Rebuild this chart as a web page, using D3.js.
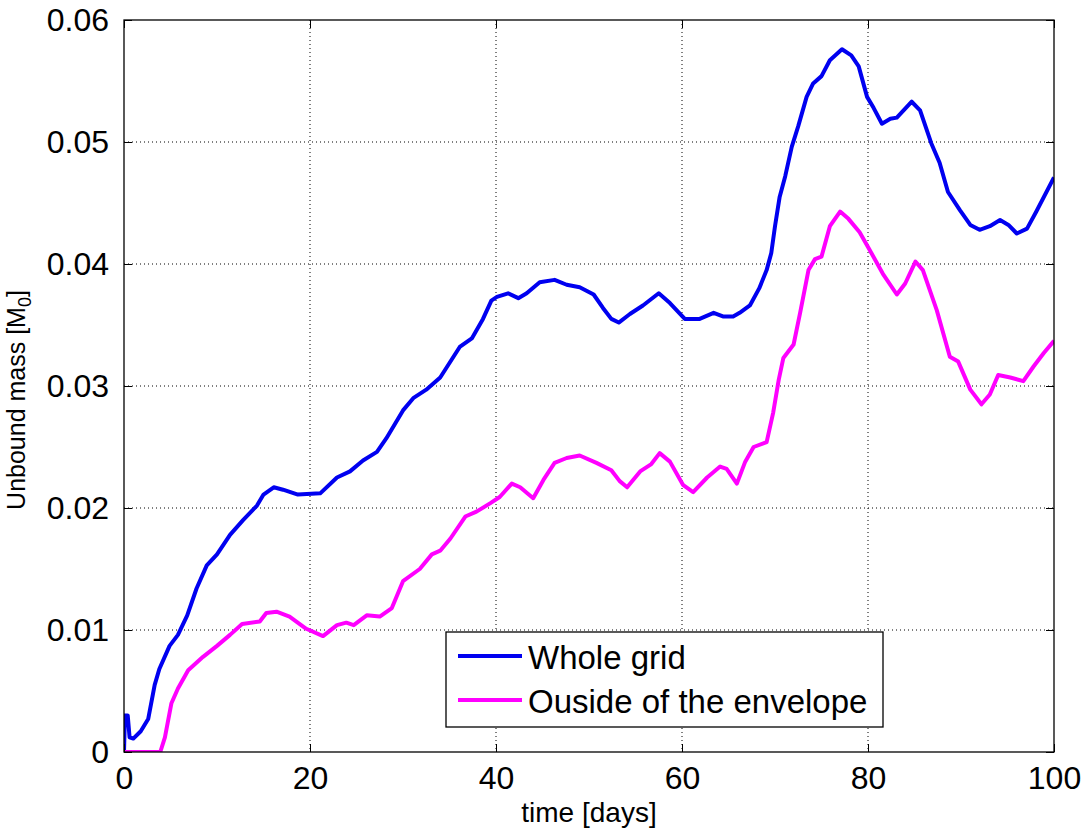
<!DOCTYPE html>
<html>
<head>
<meta charset="utf-8">
<script src="https://cdn.jsdelivr.net/npm/d3@7"></script>
<style>
  body { margin: 0; background: #fff; }
  svg text { font-family: "Liberation Sans", Arial, Helvetica, sans-serif; fill: #000; }
</style>
</head>
<body>
<div id="chart"></div>
<script>
// data
var wholeTime = [0, 0.1, 0.4, 0.6, 1.0, 1.8, 2.6, 3.3, 3.8, 4.9, 5.8, 6.8, 7.8, 8.9, 10, 11.4, 12.8, 14.3, 15, 16.1, 17.1, 18.7, 21.1, 22.9, 24.3, 25.7, 27.2, 28.2, 30, 31.1, 32.5, 34, 36.1, 37.4, 38.6, 39.5, 40.1, 41.3, 42.4, 43.3, 44.7, 46.3, 47.6, 49, 50.5, 51.5, 52.4, 53.2, 54.4, 55.8, 57.5, 58.7, 60.3, 61.9, 63.4, 64.4, 65.5, 66.2, 67.3, 68.3, 69.1, 69.6, 70, 70.5, 71.1, 71.8, 72.5, 73.4, 74.1, 75, 75.9, 77.2, 78.2, 79, 79.9, 80.6, 81.5, 82.4, 83.1, 84.7, 85.6, 86.8, 87.7, 88.6, 89.9, 91, 92, 93.1, 94.2, 95.1, 96, 97.1, 98.1, 100];
var wholeMass = [0, 0.003, 0.003, 0.0012, 0.0011, 0.0017, 0.0027, 0.0055, 0.0068, 0.0087, 0.0096, 0.0112, 0.0134, 0.0153, 0.0162, 0.0178, 0.019, 0.0202, 0.0211, 0.0217, 0.0215, 0.0211, 0.0212, 0.0225, 0.023, 0.0239, 0.0246, 0.0257, 0.028, 0.029, 0.0297, 0.0307, 0.0332, 0.0339, 0.0355, 0.037, 0.0373, 0.0376, 0.0372, 0.0376, 0.0385, 0.0387, 0.0383, 0.0381, 0.0375, 0.0364, 0.0355, 0.0352, 0.0359, 0.0366, 0.0376, 0.0368, 0.0355, 0.0355, 0.036, 0.0357, 0.0357, 0.036, 0.0366, 0.038, 0.0395, 0.0409, 0.0431, 0.0455, 0.0472, 0.0496, 0.0513, 0.0537, 0.0548, 0.0554, 0.0567, 0.0576, 0.0571, 0.0562, 0.0537, 0.0528, 0.0515, 0.0519, 0.052, 0.0533, 0.0526, 0.0499, 0.0483, 0.0459, 0.0444, 0.0432, 0.0428, 0.0431, 0.0436, 0.0432, 0.0425, 0.0429, 0.0443, 0.0471];

var outsideTime = [0, 3.9, 4.4, 5.1, 5.8, 6.9, 8.5, 10, 11.4, 12.7, 14.6, 15.3, 16.4, 17.8, 19.6, 21.4, 22.9, 23.9, 24.7, 26.1, 27.5, 28.8, 30, 31.8, 33.1, 34, 35.1, 36.7, 37.9, 39.4, 40.4, 41.7, 42.6, 44, 45.1, 46.3, 47.6, 49, 50.8, 52.4, 53.3, 54.1, 55.5, 56.7, 57.6, 58.7, 60.1, 61.2, 62.7, 64.1, 64.8, 65.9, 66.8, 67.7, 69.1, 69.8, 70.4, 70.9, 72, 72.7, 73.6, 74.3, 75, 75.9, 77, 77.9, 79.1, 80, 81.6, 83.1, 84, 85.1, 85.9, 87.4, 88.8, 89.7, 91, 92.2, 93.1, 94, 95.3, 96.7, 97.8, 98.9, 100];
var outsideMass = [0, 0, 0.0012, 0.004, 0.0052, 0.0067, 0.0078, 0.0087, 0.0096, 0.0105, 0.0107, 0.0114, 0.0115, 0.0111, 0.0101, 0.0095, 0.0104, 0.0106, 0.0104, 0.0112, 0.0111, 0.0118, 0.014, 0.015, 0.0162, 0.0165, 0.0175, 0.0193, 0.0197, 0.0204, 0.0209, 0.022, 0.0217, 0.0208, 0.0223, 0.0237, 0.0241, 0.0243, 0.0237, 0.0231, 0.0222, 0.0217, 0.023, 0.0236, 0.0245, 0.0238, 0.0219, 0.0213, 0.0225, 0.0234, 0.0232, 0.022, 0.0238, 0.025, 0.0254, 0.0278, 0.0305, 0.0323, 0.0334, 0.036, 0.0395, 0.0404, 0.0406, 0.0431, 0.0443, 0.0437, 0.0426, 0.0414, 0.0392, 0.0375, 0.0384, 0.0402, 0.0395, 0.0362, 0.0324, 0.032, 0.0297, 0.0285, 0.0293, 0.0309, 0.0307, 0.0304, 0.0316, 0.0327, 0.0337];

var xTicks = [0, 20, 40, 60, 80, 100];
var yTicks = [0, 0.01, 0.02, 0.03, 0.04, 0.05, 0.06];
var seriesNames = ["Whole grid", "Ouside of the envelope"];
var seriesColors = ["#0000f0", "#ff00ff"];

var width = 1088, height = 832;
var margin = {top: 20, right: 34, bottom: 80, left: 124};
var plotW = width - margin.left - margin.right;
var plotH = height - margin.top - margin.bottom;

var svg = d3.select("#chart")
  .append("svg")
  .attr("width", width)
  .attr("height", height);

var g = svg.append("g")
  .attr("transform", "translate(" + margin.left + "," + margin.top + ")");

var x = d3.scaleLinear().domain([0, 100]).range([0, plotW]);
var y = d3.scaleLinear().domain([0, 0.06]).range([plotH, 0]);

// dotted grid
g.append("g").selectAll("line")
  .data(xTicks.slice(1, -1))
  .enter().append("line")
  .attr("x1", function(d) { return x(d); })
  .attr("x2", function(d) { return x(d); })
  .attr("y1", 0)
  .attr("y2", plotH)
  .attr("stroke", "#000")
  .attr("stroke-width", 1)
  .attr("stroke-dasharray", "1,3");

g.append("g").selectAll("line")
  .data(yTicks.slice(1, -1))
  .enter().append("line")
  .attr("x1", 0)
  .attr("x2", plotW)
  .attr("y1", function(d) { return y(d); })
  .attr("y2", function(d) { return y(d); })
  .attr("stroke", "#000")
  .attr("stroke-width", 1)
  .attr("stroke-dasharray", "1,3");

// clip for the curves
svg.append("clipPath")
  .attr("id", "plot-clip")
  .append("rect")
  .attr("width", plotW)
  .attr("height", plotH);

var line = d3.line()
  .x(function(d) { return x(d[0]); })
  .y(function(d) { return y(d[1]); });

var series = [
  d3.zip(wholeTime, wholeMass),
  d3.zip(outsideTime, outsideMass)
];

g.append("g")
  .attr("clip-path", "url(#plot-clip)")
  .selectAll("path")
  .data(series)
  .enter().append("path")
  .attr("d", line)
  .attr("fill", "none")
  .attr("stroke", function(d, i) { return seriesColors[i]; })
  .attr("stroke-width", 4)
  .attr("stroke-linejoin", "round");

// axes (ticks point inward, box all round)
var tickLen = 8;
var xAxis = d3.axisBottom(x).tickValues(xTicks).tickSize(-tickLen).tickPadding(tickLen + 6).tickFormat(d3.format("d"));
var yAxis = d3.axisLeft(y).tickValues(yTicks).tickSize(-tickLen).tickPadding(tickLen + 7)
  .tickFormat(function(d) { return d === 0 ? "0" : d3.format(".2f")(d); });

g.append("g")
  .attr("transform", "translate(0," + plotH + ")")
  .call(xAxis)
  .call(function(a) {
    a.select(".domain").remove();
    a.selectAll("line").attr("stroke", "#000");
    a.selectAll("text").attr("font-size", 32).attr("font-family", null).attr("dy", "0.71em");
  });

g.append("g")
  .call(yAxis)
  .call(function(a) {
    a.select(".domain").remove();
    a.selectAll("line").attr("stroke", "#000");
    a.selectAll("text").attr("font-size", 32).attr("font-family", null);
  });

g.append("g")
  .call(d3.axisTop(x).tickValues(xTicks).tickSize(-tickLen).tickFormat(""))
  .call(function(a) { a.select(".domain").remove(); a.selectAll("line").attr("stroke", "#000"); });

g.append("g")
  .attr("transform", "translate(" + plotW + ",0)")
  .call(d3.axisRight(y).tickValues(yTicks).tickSize(-tickLen).tickFormat(""))
  .call(function(a) { a.select(".domain").remove(); a.selectAll("line").attr("stroke", "#000"); });

g.append("rect")
  .attr("width", plotW)
  .attr("height", plotH)
  .attr("fill", "none")
  .attr("stroke", "#000")
  .attr("stroke-width", 1.3);

// axis labels
svg.append("text")
  .attr("x", margin.left + plotW / 2)
  .attr("y", 822)
  .attr("text-anchor", "middle")
  .attr("font-size", 28)
  .text("time [days]");

var yLabel = svg.append("text")
  .attr("transform", "translate(25," + (margin.top + plotH / 2 + 14) + ") rotate(-90)")
  .attr("text-anchor", "middle")
  .attr("font-size", 25);
yLabel.append("tspan").text("Unbound mass [M");
yLabel.append("tspan").attr("font-size", 18).attr("dy", 6).text("0");
yLabel.append("tspan").attr("dy", -6).text("]");

// legend
var legend = svg.append("g")
  .attr("transform", "translate(446,632)");

legend.append("rect")
  .attr("width", 437)
  .attr("height", 95)
  .attr("fill", "#fff")
  .attr("stroke", "#000")
  .attr("stroke-width", 1.3);

var items = legend.selectAll("g.item")
  .data(seriesNames)
  .enter().append("g")
  .attr("class", "item")
  .attr("transform", function(d, i) { return "translate(0," + (24 + i * 44) + ")"; });

items.append("line")
  .attr("x1", 12)
  .attr("x2", 76)
  .attr("stroke", function(d, i) { return seriesColors[i]; })
  .attr("stroke-width", 4);

items.append("text")
  .attr("x", 82)
  .attr("y", 13)
  .attr("font-size", 33)
  .text(function(d) { return d; });
</script>
</body>
</html>
